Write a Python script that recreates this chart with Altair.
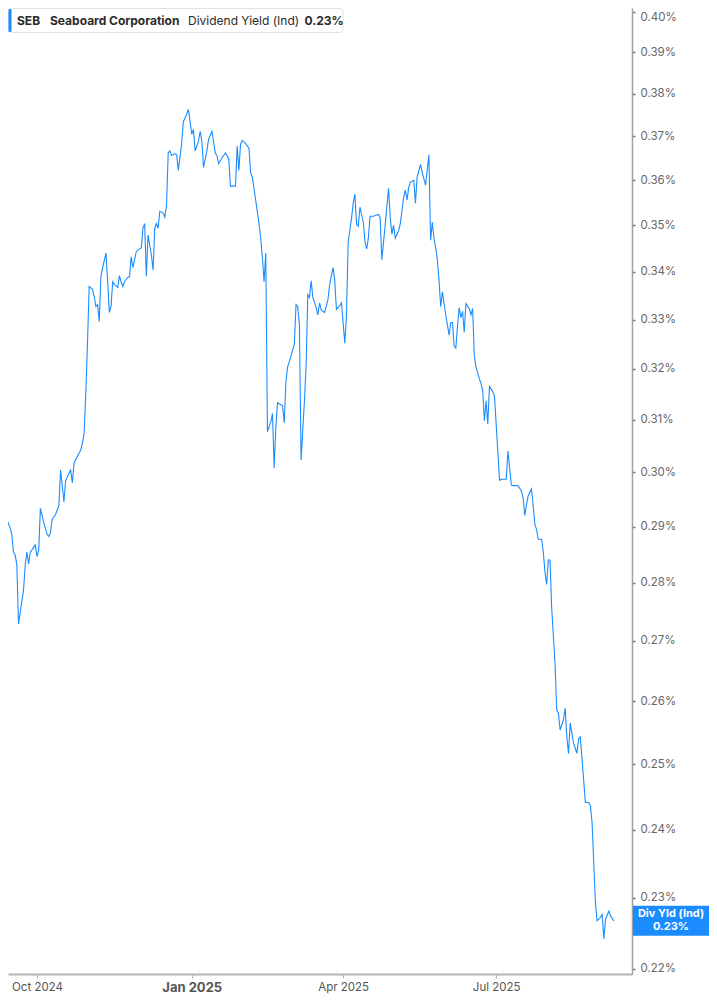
import altair as alt
import pandas as pd

# ---------------- data ----------------
dates = [
    "2024-09-09", "2024-09-11", "2024-09-13", "2024-09-15", "2024-09-16", "2024-09-17", "2024-09-18",
    "2024-09-19", "2024-09-20", "2024-09-22", "2024-09-23", "2024-09-24", "2024-09-25", "2024-09-26",
    "2024-09-27", "2024-09-28", "2024-09-30",
    "2024-10-01", "2024-10-02", "2024-10-03", "2024-10-05", "2024-10-07", "2024-10-08", "2024-10-09",
    "2024-10-10", "2024-10-12", "2024-10-14", "2024-10-15", "2024-10-16", "2024-10-17", "2024-10-18",
    "2024-10-20", "2024-10-21", "2024-10-22", "2024-10-23", "2024-10-25", "2024-10-27", "2024-10-28",
    "2024-10-29", "2024-10-30", "2024-10-31",
    "2024-11-01", "2024-11-03", "2024-11-04", "2024-11-05", "2024-11-06", "2024-11-07", "2024-11-08",
    "2024-11-09", "2024-11-11", "2024-11-12", "2024-11-13", "2024-11-14", "2024-11-15", "2024-11-16",
    "2024-11-18", "2024-11-19", "2024-11-20", "2024-11-21", "2024-11-22", "2024-11-24", "2024-11-25",
    "2024-11-26", "2024-11-27", "2024-11-29", "2024-11-30",
    "2024-12-02", "2024-12-03", "2024-12-04", "2024-12-05", "2024-12-06", "2024-12-08", "2024-12-09",
    "2024-12-10", "2024-12-11", "2024-12-12", "2024-12-13", "2024-12-15", "2024-12-16", "2024-12-17",
    "2024-12-18", "2024-12-19", "2024-12-20", "2024-12-22", "2024-12-23", "2024-12-24", "2024-12-26",
    "2024-12-27", "2024-12-28", "2024-12-30",
    "2025-01-01", "2025-01-02", "2025-01-03", "2025-01-05", "2025-01-06", "2025-01-07", "2025-01-08",
    "2025-01-10", "2025-01-11", "2025-01-13", "2025-01-15", "2025-01-16", "2025-01-17", "2025-01-19",
    "2025-01-21", "2025-01-23", "2025-01-24", "2025-01-27", "2025-01-28", "2025-01-29", "2025-01-30",
    "2025-01-31",
    "2025-02-02", "2025-02-04", "2025-02-05", "2025-02-06", "2025-02-08", "2025-02-10", "2025-02-11",
    "2025-02-12", "2025-02-13", "2025-02-14", "2025-02-15", "2025-02-17", "2025-02-18", "2025-02-19",
    "2025-02-20", "2025-02-21", "2025-02-24", "2025-02-25", "2025-02-26", "2025-02-27", "2025-02-28",
    "2025-03-03", "2025-03-04", "2025-03-05", "2025-03-06", "2025-03-07", "2025-03-09", "2025-03-10",
    "2025-03-11", "2025-03-12", "2025-03-13", "2025-03-14", "2025-03-16", "2025-03-17", "2025-03-18",
    "2025-03-19", "2025-03-21", "2025-03-23", "2025-03-24", "2025-03-26", "2025-03-27", "2025-03-28",
    "2025-03-30", "2025-03-31",
    "2025-04-02", "2025-04-03", "2025-04-04", "2025-04-06", "2025-04-07", "2025-04-08", "2025-04-09",
    "2025-04-10", "2025-04-11", "2025-04-13", "2025-04-14", "2025-04-15", "2025-04-16", "2025-04-17",
    "2025-04-19", "2025-04-22", "2025-04-23", "2025-04-24", "2025-04-26", "2025-04-28", "2025-04-29",
    "2025-04-30",
    "2025-05-01", "2025-05-02", "2025-05-04", "2025-05-05", "2025-05-07", "2025-05-08", "2025-05-09",
    "2025-05-10", "2025-05-11", "2025-05-13", "2025-05-14", "2025-05-15", "2025-05-17", "2025-05-18",
    "2025-05-20", "2025-05-22", "2025-05-23", "2025-05-24", "2025-05-25", "2025-05-26", "2025-05-27",
    "2025-05-28", "2025-05-29", "2025-05-30",
    "2025-06-01", "2025-06-03", "2025-06-04", "2025-06-05", "2025-06-06", "2025-06-07", "2025-06-08",
    "2025-06-09", "2025-06-10", "2025-06-11", "2025-06-12", "2025-06-13", "2025-06-15", "2025-06-16",
    "2025-06-17", "2025-06-18", "2025-06-19", "2025-06-21", "2025-06-22", "2025-06-23", "2025-06-24",
    "2025-06-25", "2025-06-26", "2025-06-27", "2025-06-29", "2025-06-30",
    "2025-07-03", "2025-07-04", "2025-07-07", "2025-07-08", "2025-07-10", "2025-07-11", "2025-07-14",
    "2025-07-16", "2025-07-17", "2025-07-18", "2025-07-19", "2025-07-20", "2025-07-22", "2025-07-23",
    "2025-07-24", "2025-07-25", "2025-07-26", "2025-07-28", "2025-07-29", "2025-07-30", "2025-07-31",
    "2025-08-01", "2025-08-02", "2025-08-03", "2025-08-05", "2025-08-06", "2025-08-07", "2025-08-08",
    "2025-08-10", "2025-08-11", "2025-08-12", "2025-08-13", "2025-08-14", "2025-08-16", "2025-08-17",
    "2025-08-18", "2025-08-19", "2025-08-20", "2025-08-22", "2025-08-23", "2025-08-25", "2025-08-26",
    "2025-08-27", "2025-08-28", "2025-08-29", "2025-08-30",
    "2025-09-01", "2025-09-02", "2025-09-03", "2025-09-04", "2025-09-06", "2025-09-07", "2025-09-09",
]

div_yield = [
    # Sep 2024
    0.2911, 0.2907, 0.2913, 0.2898, 0.2886, 0.2854, 0.2849, 0.2832, 0.2729, 0.2768, 0.2788, 0.2832,
    0.2854, 0.2833, 0.2854, 0.2858, 0.2867,
    # Oct
    0.2846, 0.2858, 0.2933, 0.2907, 0.2886, 0.2882, 0.2889, 0.2913, 0.2922, 0.2938, 0.3004, 0.2975,
    0.2945, 0.2984, 0.2998, 0.3004, 0.2980, 0.3017, 0.3030, 0.3042, 0.3055, 0.3074, 0.3151, 0.3250,
    # Nov
    0.3369, 0.3363, 0.3348, 0.3327, 0.3331, 0.3296, 0.3390, 0.3409, 0.3440, 0.3379, 0.3315, 0.3327,
    0.3379, 0.3373, 0.3367, 0.3392, 0.3379, 0.3369, 0.3379, 0.3388, 0.3390, 0.3432, 0.3409, 0.3443,
    0.3447,
    # Dec
    0.3451, 0.3494, 0.3504, 0.3390, 0.3479, 0.3436, 0.3404, 0.3494, 0.3504, 0.3494, 0.3531, 0.3527,
    0.3518, 0.3544, 0.3662, 0.3667, 0.3656, 0.3660, 0.3658, 0.3622, 0.3684, 0.3735, 0.3742, 0.3763,
    # Jan 2025
    0.3705, 0.3716, 0.3667, 0.3689, 0.3712, 0.3689, 0.3629, 0.3667, 0.3693, 0.3712, 0.3662, 0.3656,
    0.3638, 0.3651, 0.3662, 0.3649, 0.3587, 0.3587, 0.3678, 0.3622, 0.3682, 0.3691,
    # Feb
    0.3684, 0.3673, 0.3618, 0.3607, 0.3556, 0.3504, 0.3472, 0.3430, 0.3379, 0.3440, 0.3077, 0.3096,
    0.3112, 0.3008, 0.3087, 0.3133, 0.3127, 0.3094, 0.3175, 0.3204, 0.3214,
    # Mar
    0.3250, 0.3331, 0.3327, 0.3290, 0.3023, 0.3137, 0.3210, 0.3352, 0.3346, 0.3381, 0.3346, 0.3325,
    0.3310, 0.3335, 0.3319, 0.3315, 0.3342, 0.3373, 0.3409, 0.3383, 0.3321, 0.3329, 0.3335,
    # Apr
    0.3252, 0.3310, 0.3464, 0.3516, 0.3549, 0.3569, 0.3502, 0.3498, 0.3540, 0.3507, 0.3464, 0.3449,
    0.3472, 0.3520, 0.3520, 0.3524, 0.3518, 0.3426, 0.3500, 0.3582, 0.3518, 0.3481,
    # May
    0.3500, 0.3472, 0.3489, 0.3504, 0.3562, 0.3578, 0.3556, 0.3584, 0.3596, 0.3600, 0.3549, 0.3607,
    0.3636, 0.3618, 0.3589, 0.3658, 0.3468, 0.3507, 0.3472, 0.3453, 0.3426, 0.3383, 0.3327, 0.3358,
    # Jun
    0.3310, 0.3268, 0.3294, 0.3294, 0.3246, 0.3242, 0.3286, 0.3325, 0.3304, 0.3317, 0.3274, 0.3333,
    0.3323, 0.3310, 0.3323, 0.3226, 0.3204, 0.3180, 0.3171, 0.3157, 0.3098, 0.3137, 0.3092, 0.3165,
    0.3155, 0.3145,
    # Jul
    0.2985, 0.2987, 0.2987, 0.3040, 0.2976, 0.2975, 0.2975, 0.2965, 0.2953, 0.2920, 0.2940, 0.2956,
    0.2969, 0.2938, 0.2904, 0.2895, 0.2877, 0.2877, 0.2854, 0.2819, 0.2797,
    # Aug
    0.2840, 0.2840, 0.2756, 0.2662, 0.2586, 0.2581, 0.2554, 0.2570, 0.2589, 0.2543, 0.2517, 0.2565,
    0.2533, 0.2525, 0.2517, 0.2540, 0.2543, 0.2476, 0.2441, 0.2441, 0.2436, 0.2411, 0.2351, 0.2293,
    0.2267,
    # Sep 2025
    0.2272, 0.2276, 0.2242, 0.2269, 0.2281, 0.2274, 0.2267,
]

y_ticks = [0.22, 0.23, 0.24, 0.25, 0.26, 0.27, 0.28, 0.29, 0.30, 0.31,
           0.32, 0.33, 0.34, 0.35, 0.36, 0.37, 0.38, 0.39, 0.40]
x_ticks = [(2024, 10), (2025, 1), (2025, 4), (2025, 7)]

ticker = "SEB"
company = "Seaboard Corporation"
metric = "Dividend Yield (Ind)"
metric_short = "Div Yld (Ind)"

# ---------------- chart ----------------
BLUE = "#1a8cff"
FONT = "Inter"

df = pd.DataFrame({"date": dates, "value": div_yield})
last = df.tail(1)

x_scale = alt.Scale(
    type="utc",
    domain=[alt.DateTime(year=2024, month=9, date=13, hours=18, utc=True),
            alt.DateTime(year=2025, month=9, date=19, hours=18, utc=True)],
)
y_scale = alt.Scale(type="log", domain=[0.2193, 0.4009], nice=False, zero=False)

x_axis = alt.Axis(
    values=[alt.DateTime(year=y, month=m, date=1, utc=True) for y, m in x_ticks],
    labelExpr="utcFormat(datum.value, '%b %Y')",
    title=None, grid=False, labelFlush=False,
    domainColor="#b4b4b4", domainWidth=2,
    tickColor="#b4b4b4", tickSize=4, tickWidth=1,
    labelColor="#555555", labelFont=FONT, labelPadding=3,
    labelFontSize={"condition": {"test": "utcmonth(datum.value) === 0", "value": 13}, "value": 11.5},
    labelFontWeight={"condition": {"test": "utcmonth(datum.value) === 0", "value": "bold"}, "value": "normal"},
)
y_axis = alt.Axis(
    orient="right", values=y_ticks,
    labelExpr="format(datum.value, '.2f') + '%'",
    title=None, grid=False, labelFlush=4, labelOverlap=False,
    domainColor="#a0a0a0", domainWidth=1.5,
    tickColor="#777777", tickSize=3, tickWidth=1.5,
    labelColor="#666666", labelFont=FONT, labelFontSize=11.5, labelPadding=5,
)
y_enc = alt.Y("value:Q", scale=y_scale, axis=y_axis)

line = alt.Chart(df).mark_line(color=BLUE, strokeWidth=1.1, clip=True).encode(
    x=alt.X("date:T", scale=x_scale, axis=x_axis),
    y=y_enc,
)

last_lbl = alt.Chart(last).transform_calculate(
    label="format(datum.value, '.2f') + '%'"
)

BOX_X0, BOX_X1 = 625, 701
value_box = last_lbl.mark_rect(color=BLUE, yOffset=-15, y2Offset=15).encode(
    x=alt.value(BOX_X0), x2=alt.value(BOX_X1),
    y=y_enc,
    y2="value:Q",
)
value_box_t1 = last_lbl.mark_text(
    text=metric_short, color="white", font=FONT, fontSize=11, fontWeight="bold",
    align="center", baseline="middle", dy=-6.5,
).encode(x=alt.value((BOX_X0 + BOX_X1) / 2), y=y_enc)
value_box_t2 = last_lbl.mark_text(
    color="white", font=FONT, fontSize=11, fontWeight="bold",
    align="center", baseline="middle", dy=6.5,
).encode(x=alt.value((BOX_X0 + BOX_X1) / 2), y=y_enc, text="label:N")

# legend box at the top-left
leg_box = last_lbl.mark_rect(
    fill="white", stroke="#e2e2e2", strokeWidth=1, cornerRadius=3
).encode(x=alt.value(0.5), x2=alt.value(335), y=alt.value(0.5), y2=alt.value(24.5))
leg_bar = last_lbl.mark_rect(fill=BLUE, cornerRadius=1).encode(
    x=alt.value(0.5), x2=alt.value(3.5), y=alt.value(1), y2=alt.value(24)
)


def leg_text(txt, xpos, weight):
    return last_lbl.mark_text(
        text=txt, font=FONT, fontSize=12, fontWeight=weight, color="#2a2a2a",
        align="left", baseline="middle",
    ).encode(x=alt.value(xpos), y=alt.value(12.5))


leg_t1 = leg_text(ticker, 9, "bold")
leg_t2 = leg_text(company, 42, "bold")
leg_t3 = leg_text(metric, 180, "normal")
leg_t4 = last_lbl.mark_text(
    font=FONT, fontSize=12, fontWeight="bold", color="#2a2a2a", align="left", baseline="middle",
).encode(x=alt.value(296.5), y=alt.value(12.5), text="label:N")

chart = alt.layer(
    line, value_box, value_box_t1, value_box_t2,
    leg_box, leg_bar, leg_t1, leg_t2, leg_t3, leg_t4,
).properties(
    width=624, height=966, padding=0, background="white",
).configure_view(strokeWidth=0, stroke=None)

chart.save("out.html", embed_options={"renderer": "svg", "actions": False})
